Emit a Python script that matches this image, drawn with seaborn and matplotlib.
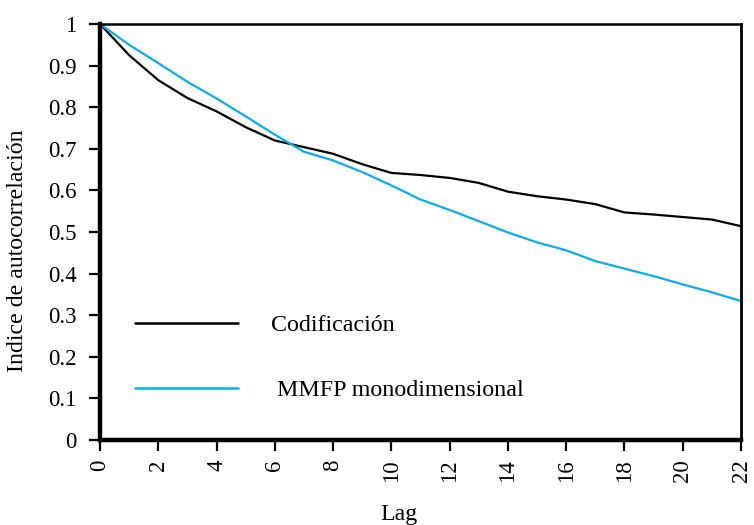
import numpy as np
import pandas as pd
import matplotlib
matplotlib.use("Agg")
import matplotlib.pyplot as plt
import seaborn as sns

lags = list(range(0, 23))
codificacion = [1.000, 0.925, 0.865, 0.822, 0.790, 0.752, 0.720, 0.704, 0.688, 0.663,
                0.642, 0.637, 0.630, 0.618, 0.597, 0.586, 0.578, 0.567, 0.547, 0.542,
                0.536, 0.530, 0.514]
mmfp = [1.000, 0.950, 0.906, 0.861, 0.821, 0.778, 0.734, 0.693, 0.672, 0.644,
        0.612, 0.578, 0.553, 0.526, 0.499, 0.475, 0.456, 0.430, 0.412, 0.394,
        0.374, 0.355, 0.334]
series_names = ["Codificación", " MMFP monodimensional"]
series_colors = ["#000000", "#0AAEE8"]
x_ticks = list(range(0, 23, 2))
y_ticks = [0, 0.1, 0.2, 0.3, 0.4, 0.5, 0.6, 0.7, 0.8, 0.9, 1.0]
y_tick_labels = ["0", "0.1", "0.2", "0.3", "0.4", "0.5", "0.6", "0.7", "0.8", "0.9", "1"]

df = pd.DataFrame({
    "Lag": lags * 2,
    "valor": codificacion + mmfp,
    "serie": [series_names[0]] * len(lags) + [series_names[1]] * len(lags),
})

sns.set_theme(style="white", rc={"text.color": "black", "axes.labelcolor": "black",
                                 "xtick.color": "black", "ytick.color": "black"})
plt.rcParams["font.family"] = ["Liberation Serif", "DejaVu Serif"]
fs_tick = 16.5
fs_label = 17.2
fs_leg = 17.3

fig = plt.figure(figsize=(7.54, 5.25), dpi=100)
ax = fig.add_axes([100 / 754, 85 / 525, 641 / 754, 416 / 525])

sns.lineplot(data=df, x="Lag", y="valor", hue="serie", palette=series_colors,
             hue_order=series_names, linewidth=1.6, ax=ax, legend=False)

ax.set_xlim(0, 22)
ax.set_ylim(0, 1)
ax.set_xticks(x_ticks)
ax.set_xticklabels([str(t) for t in x_ticks], rotation=90, fontsize=fs_tick)
ax.set_yticks(y_ticks)
ax.set_yticklabels(y_tick_labels, fontsize=fs_tick)
ax.tick_params(axis="both", direction="out", length=8, width=1.6, color="black",
               labelcolor="black", bottom=True, left=True)
ax.tick_params(axis="y", pad=9)
ax.tick_params(axis="x", pad=6)

for side, lw in [("left", 3.2), ("bottom", 3.2), ("top", 1.8), ("right", 2.0)]:
    ax.spines[side].set_visible(True)
    ax.spines[side].set_color("black")
    ax.spines[side].set_linewidth(lw)

ax.set_xlabel("Lag", fontsize=fs_label, color="black")
ax.set_ylabel("Indice de autocorrelación", fontsize=fs_label, color="black")
ax.xaxis.set_label_coords(0.466, -0.155)
ax.yaxis.set_label_coords(-0.112, 0.455)

handles = [plt.Line2D([], [], color=c, linewidth=1.8) for c in series_colors]
leg = ax.legend(handles, series_names, loc="center left", bbox_to_anchor=(0.0546, 0.197),
                frameon=False, fontsize=fs_leg, handlelength=4.29, handletextpad=1.35,
                labelspacing=1.8, borderpad=0, borderaxespad=0)
for t in leg.get_texts():
    t.set_color("black")

fig.savefig("out.png", dpi=100)
